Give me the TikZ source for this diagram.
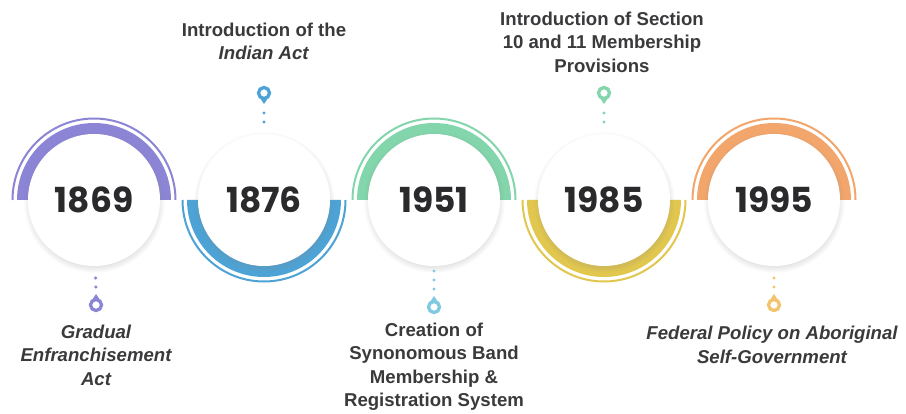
\documentclass[tikz,border=0pt]{standalone}
\usepackage{fontspec}
\setmainfont{Liberation Sans}
\newfontfamily\yearfont{Poppins}
\usepackage{xcolor}
\usetikzlibrary{shadows,positioning}

\definecolor{cpurple}{HTML}{8C85D6}
\definecolor{cblue}{HTML}{4DA3D5}
\definecolor{cgreen}{HTML}{83D5AB}
\definecolor{cyellow}{HTML}{E2C74E}
\definecolor{corange}{HTML}{F2A66C}
\definecolor{pincyan}{HTML}{80C9E0}
\definecolor{pingold}{HTML}{F3C46E}
\definecolor{numgray}{HTML}{2A2A2C}
\definecolor{capgray}{HTML}{3A3A3C}

\begin{document}
\begin{tikzpicture}
      [ x=1pt, y=1pt,
        yearcircle/.style={circle, fill=white, minimum size=132pt, inner sep=0pt,
          text=numgray, font=\yearfont\bfseries\fontsize{34.5}{34.5}\selectfont,
          circular drop shadow={shadow xshift=0pt, shadow yshift=-2pt,
            shadow scale=1.07, opacity=0.3}},
        marker/.style={circle, draw=#1, line width=3.3pt, minimum size=11pt, inner sep=0pt},
        dotline/.style={draw=#1, line width=3.4pt, line cap=round,
          dash pattern=on 0pt off 9pt},
        caption/.style={align=center, text=capgray,
          font=\bfseries\fontsize{18.6}{23.5}\selectfont},
        captionit/.style={caption, font=\bfseries\itshape\fontsize{18.6}{23.5}\selectfont}
      ]
      \useasboundingbox[fill=white] (0,0) rectangle (906,413);

      % half rings behind the years
      \foreach \x/\ang/\col in {94/180/cpurple, 264/-180/cblue, 434/180/cgreen,
                                604/-180/cyellow, 774/180/corange}{
        \fill[\col] (\x+77,213) arc[start angle=0, end angle=\ang, radius=77]
              -- (\x-60,213) arc[start angle=\ang, end angle=0, radius=60] -- cycle;
        \draw[\col, line width=2pt] (\x+81.5,213) arc[start angle=0, end angle=\ang, radius=81.5];
      }

      % the years
      \foreach \x/\yr in {94/1869, 264/1876, 434/1951, 604/1985, 774/1995}
        \node[yearcircle] (y\yr) at (\x,213) {\yr};

      % markers above
      \node[marker=cblue]  (m1876) at (264,320) {};
      \node[marker=cgreen] (m1985) at (604,320) {};
      \foreach \m/\col in {m1876/cblue, m1985/cgreen}
        \fill[\col] ([shift={(-3.2,-6.2)}]\m.center) -- ([shift={(3.2,-6.2)}]\m.center)
              -- ([shift={(0,-11)}]\m.center) -- cycle;

      % markers below
      \node[marker=cpurple] (m1869) at (96,108)  {};
      \node[marker=pincyan] (m1951) at (434,106) {};
      \node[marker=pingold] (m1995) at (774,108) {};
      \foreach \m/\col in {m1869/cpurple, m1951/pincyan, m1995/pingold}
        \fill[\col] ([shift={(-3.2,6.2)}]\m.center) -- ([shift={(3.2,6.2)}]\m.center)
              -- ([shift={(0,11)}]\m.center) -- cycle;

      % dots
      \draw[dotline=cblue, shorten <=9pt, shorten >=4pt] ([yshift=-11pt]m1876.center) -- (y1876);
      \draw[dotline=cgreen, shorten <=9pt, shorten >=4pt] ([yshift=-11pt]m1985.center) -- (y1985);
      \draw[dotline=cpurple, shorten <=7pt, shorten >=4pt] ([yshift=11pt]m1869.center) -- (y1869);
      \draw[dotline=pincyan, shorten <=7pt, shorten >=4pt] ([yshift=11pt]m1951.center) -- (y1951);
      \draw[dotline=pingold, shorten <=7pt, shorten >=4pt] ([yshift=11pt]m1995.center) -- (y1995);

      % captions
      \node[caption]   (t1876) at (264,371.5) {Introduction of the\\\textit{Indian Act}};
      \node[caption]   (t1985) at (602,371)   {Introduction of Section\\10 and 11 Membership\\Provisions};
      \node[captionit] (t1869) at (96,58)     {Gradual\\Enfranchisement\\Act};
      \node[caption]   (t1951) at (434,46.5)  {Creation of\\Synonomous Band\\Membership \&\\Registration System};
      \node[captionit] (t1995) at (772,68)    {Federal Policy on Aboriginal\\Self-Government};
\end{tikzpicture}
\end{document}
